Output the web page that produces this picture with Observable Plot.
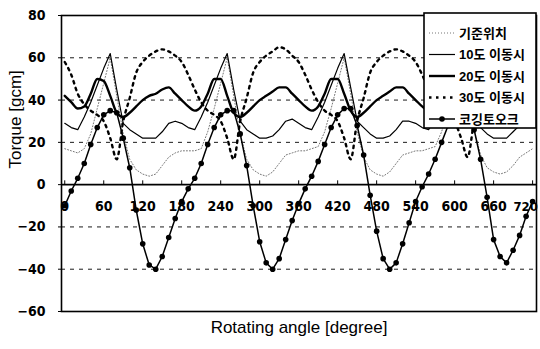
<!DOCTYPE html>
<html><head><meta charset="utf-8">
<script src="https://cdn.jsdelivr.net/npm/d3@7"></script>
<script src="https://cdn.jsdelivr.net/npm/@observablehq/plot@0.6"></script>
<style>body{margin:0;background:#fff;}</style>
</head><body><div id="chart"></div>
<script>
// ---- data ----
const angles = [0,10,20,30,40,50,60,70,80,90,100,110,120,130,140,150,160,170,
  180,190,200,210,220,230,240,250,260,270,280,290,300,310,320,330,340,350,
  360,370,380,390,400,410,420,430,440,450,460,470,480,490,500,510,520,530,
  540,550,560,570,580,590,600,610,620,630,640,650,660,670,680,690,700,710,720];

const refPos = [17,16,15,17,24,36,48,60,42,24,12,7,5,4,5,9,13,15,
  16,16,16,17,25,36,48,60,42,24,12,7,5,4,6,10,14,15,
  16,16,17,18,25,36,48,60,43,25,13,7,5,4,6,10,14,15,
  16,16,17,18,25,36,48,59,44,26,14,8,6,5,6,9,13,15,17];

const shift10 = [29,27,26,32,39,47,55,62,45,29,26,24,22,22,22,25,29,30,
  29,27,26,32,39,47,55,62,45,30,26,24,22,22,23,26,30,31,
  29,27,26,32,39,47,55,62,46,30,27,24,22,22,23,26,30,30,
  29,27,26,31,39,47,55,61,46,31,27,24,22,22,22,25,28,29,28];

const shift20 = [42,39,36,37,43,50,49,42,34,32,34,37,40,42,43,45,46,43,
  40,37,35,37,43,50,50,42,34,32,34,37,40,42,44,46,46,43,
  40,37,35,37,43,50,50,43,35,32,34,37,40,42,44,46,46,43,
  40,37,35,37,43,50,50,43,35,32,34,37,40,42,44,46,45,42,40];

const shift30 = [58,52,43,38,35,33,30,22,12,30,41,53,58,61,63,64,63,61,
  58,52,45,39,35,33,30,22,12,30,41,53,58,61,63,65,64,61,
  58,52,45,39,35,33,30,22,12,30,41,53,58,61,63,64,63,61,
  58,52,45,39,35,33,30,22,13,30,41,53,58,61,63,64,63,60,57];

const cogging = [-10,-3,3,10,19,27,33,35,34,22,8,-12,-28,-38,-40,-34,-25,-16,
  -8,-2,3,10,19,27,33,35,35,24,9,-10,-27,-37,-40,-35,-26,-17,
  -9,-2,4,11,19,27,33,36,36,28,14,-5,-22,-35,-40,-37,-28,-18,
  -8,-1,5,12,20,28,33,35,35,26,12,-6,-26,-34,-37,-31,-24,-15,-8];

const seriesNames = ["기준위치","10도 이동시","20도 이동시","30도 이동시","코깅토오크"];
const xTicks = [0,60,120,180,240,300,360,420,480,540,600,660,720];
const yTicks = [-60,-40,-20,0,20,40,60,80];
const gridY = [60,40,20,-20,-40];
const xTitle = "Rotating angle [degree]";
const yTitle = "Torque [gcm]";

// ---- styles ----
const styles = {
  "기준위치":   {stroke:"#777", strokeWidth:1, strokeDasharray:"1,2", curve:"linear"},
  "10도 이동시": {stroke:"#000", strokeWidth:1.2, strokeDasharray:null, curve:"linear"},
  "20도 이동시": {stroke:"#000", strokeWidth:2.4, strokeDasharray:null, curve:"monotone-x"},
  "30도 이동시": {stroke:"#000", strokeWidth:2.4, strokeDasharray:"2.5,4.5", curve:"monotone-x"},
  "코깅토오크":  {stroke:"#000", strokeWidth:1.5, strokeDasharray:null, curve:"linear"}
};
const values = [refPos, shift10, shift20, shift30, cogging];
const table = seriesNames.map((name, i) => angles.map((a, j) => ({name, angle:a, v:values[i][j]})));

const numFont = "'Liberation Sans Narrow','DejaVu Sans Condensed','Liberation Sans',sans-serif";
const txtFont = "'Liberation Sans',Arial,sans-serif";
const lastTick = xTicks[xTicks.length - 1];

const marks = [
  Plot.ruleY(gridY, {stroke:"#000", strokeWidth:0.9, strokeDasharray:"4,5"}),
  Plot.ruleY([0], {stroke:"#000", strokeWidth:1.6}),
  Plot.ruleX(xTicks, {x:d=>d, y1:0, y2:1.8, stroke:"#000", strokeWidth:1}),
  Plot.text(xTicks.filter(d => d !== lastTick), {x:d=>d, y:0, dy:22, text:d=>String(d), fontSize:14, fontWeight:"bold", fontFamily:numFont, fill:"#000"}),
  Plot.text([lastTick], {x:d=>d, y:0, dy:22, dx:-7, text:d=>String(d), fontSize:13, fontWeight:"bold", fontFamily:numFont, fill:"#000"}),
  Plot.axisY(yTicks, {tickSize:3, tickPadding:13, fontSize:14, fontWeight:"bold", fontFamily:numFont, label:null, stroke:"#000"}),
];
table.forEach((rows, i) => {
  const s = styles[seriesNames[i]];
  const o = {x:"angle", y:"v", stroke:s.stroke, strokeWidth:s.strokeWidth, curve:s.curve};
  if (s.strokeDasharray) o.strokeDasharray = s.strokeDasharray;
  marks.push(Plot.line(rows, o));
});
marks.push(Plot.dot(table[4], {x:"angle", y:"v", r:2.8, fill:"#000", stroke:"none"}));
marks.push(Plot.frame({stroke:"#000", strokeWidth:1.6}));
marks.push(Plot.text([yTitle], {frameAnchor:"left", dx:-46, dy:5, rotate:-90, text:d=>d, fontSize:17, fontFamily:txtFont, fill:"#000"}));
marks.push(Plot.text([xTitle], {frameAnchor:"bottom", dy:21, text:d=>d, fontSize:17, fontFamily:txtFont, fill:"#000"}));

const chart = Plot.plot({
  width:540, height:349,
  marginLeft:61, marginRight:4, marginTop:15, marginBottom:38,
  x:{domain:[-5,726], axis:null},
  y:{domain:[-60,80], axis:null},
  style:{background:"#fff", overflow:"visible"},
  marks
});
document.getElementById("chart").appendChild(chart);

// ---- legend ----
const svg = d3.select(chart);
const lg = svg.append("g").attr("text-anchor","start");
const bx = 424, by = 13, bw = 112, bh = 115;
lg.append("rect").attr("x",bx).attr("y",by).attr("width",bw).attr("height",bh)
  .attr("fill","#fff").attr("stroke","#000").attr("stroke-width",1.6);
seriesNames.forEach((name, i) => {
  const s = styles[name];
  const yy = by + 20 + i*21.5;
  const ln = lg.append("line").attr("x1",bx+5).attr("x2",bx+31).attr("y1",yy).attr("y2",yy)
    .attr("stroke",s.stroke).attr("stroke-width",s.strokeWidth);
  if (s.strokeDasharray) ln.attr("stroke-dasharray", s.strokeDasharray);
  if (i === 4) lg.append("circle").attr("cx",bx+18).attr("cy",yy).attr("r",2.8).attr("fill","#000");
  lg.append("text").attr("x",bx+35).attr("y",yy).attr("dy","0.36em")
    .attr("text-anchor","start")
    .attr("font-size",13).attr("font-weight","bold")
    .attr("font-family","'Liberation Sans','Noto Sans CJK KR',sans-serif")
    .attr("fill","#000").text(name);
});
</script>
</body></html>
